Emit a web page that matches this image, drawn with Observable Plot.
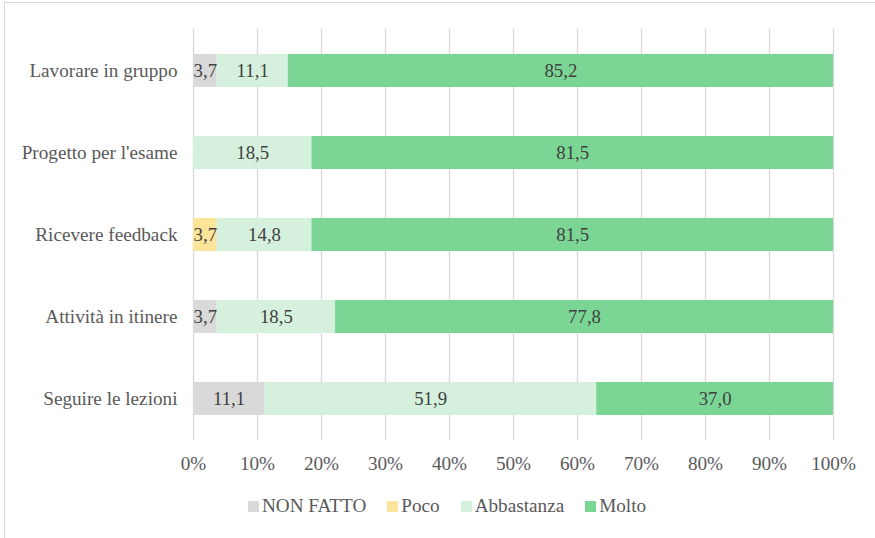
<!DOCTYPE html>
<html>
<head>
<meta charset="utf-8">
<script src="https://cdn.jsdelivr.net/npm/d3@7"></script>
<script src="https://cdn.jsdelivr.net/npm/@observablehq/plot@0.6"></script>
<style>
  html, body { margin: 0; padding: 0; background: #fff; }
  body { width: 875px; height: 538px; position: relative; overflow: hidden; }
  #frame { position: absolute; left: 4px; top: 2px; width: 900px; height: 600px; border-left: 1px solid #d9d9d9; border-top: 1px solid #d9d9d9; }
  #chart { position: absolute; left: 0; top: 0; }
  #legend { position: absolute; top: 495px; left: 248px; display: flex; font-size: 19.2px; color: #595959; }
  .item { display: flex; align-items: center; margin-right: 21px; }
  .sw { width: 11px; height: 11px; margin-right: 3px; display: inline-block; }
</style>
</head>
<body>
<div id="frame"></div>
<div id="chart"></div>
<div id="legend"></div>
<script>
const SERIF = "'Liberation Serif', 'Times New Roman', serif";
const categories = ["Lavorare in gruppo", "Progetto per l'esame", "Ricevere feedback", "Attività in itinere", "Seguire le lezioni"];
const series = ["NON FATTO", "Poco", "Abbastanza", "Molto"];
const colors = ["#d9d9d9", "#fde49b", "#d5f0dc", "#7bd695"];
const nonFatto   = [3.7, 0, 0, 3.7, 11.1];
const poco       = [0, 0, 3.7, 0, 0];
const abbastanza = [11.1, 18.5, 14.8, 18.5, 51.9];
const molto      = [85.2, 81.5, 81.5, 77.8, 37.0];
const xTicks = [0, 10, 20, 30, 40, 50, 60, 70, 80, 90, 100];

const valuesBySeries = [nonFatto, poco, abbastanza, molto];
const data = [];
series.forEach((s, si) => {
  categories.forEach((c, ci) => {
    data.push({ cat: c, series: s, value: valuesBySeries[si][ci] });
  });
});
const fmt = v => v.toFixed(1).replace(".", ",");

const chart = Plot.plot({
  width: 875,
  height: 490,
  marginLeft: 193,
  marginRight: 42,
  marginTop: 28,
  marginBottom: 50,
  style: { fontFamily: SERIF, fontSize: "19.2px", color: "#595959", background: "transparent" },
  x: { domain: [0, 100], ticks: xTicks, tickFormat: d => d + "%", tickSize: 0, tickPadding: 16, label: null, grid: false },
  y: { domain: categories, paddingInner: 0.6, paddingOuter: 0.3, tickSize: 0, tickPadding: 16, label: null },
  color: { domain: series, range: colors },
  marks: [
    Plot.ruleX(xTicks, { stroke: "#d9d9d9", strokeWidth: 1.3, strokeOpacity: 1 }),
    Plot.barX(data, Plot.stackX({ x: "value", y: "cat", fill: "series", order: null })),
    Plot.text(data.filter(d => d.value > 0), Plot.stackX({ x: "value", y: "cat", z: "series", order: null, text: d => fmt(d.value), fill: "#404040", fontSize: 18.8 }))
  ]
});
chart.querySelectorAll("g, text, tspan").forEach(el => { el.style.fontFamily = SERIF; });
document.getElementById("chart").appendChild(chart);

const legend = document.getElementById("legend");
legend.style.fontFamily = SERIF;
series.forEach((s, i) => {
  const item = document.createElement("div");
  item.className = "item";
  item.style.fontFamily = SERIF;
  const sw = document.createElement("span");
  sw.className = "sw";
  sw.style.background = colors[i];
  item.appendChild(sw);
  const t = document.createElement("span");
  t.style.fontFamily = SERIF;
  t.textContent = s;
  item.appendChild(t);
  legend.appendChild(item);
});
</script>
</body>
</html>
